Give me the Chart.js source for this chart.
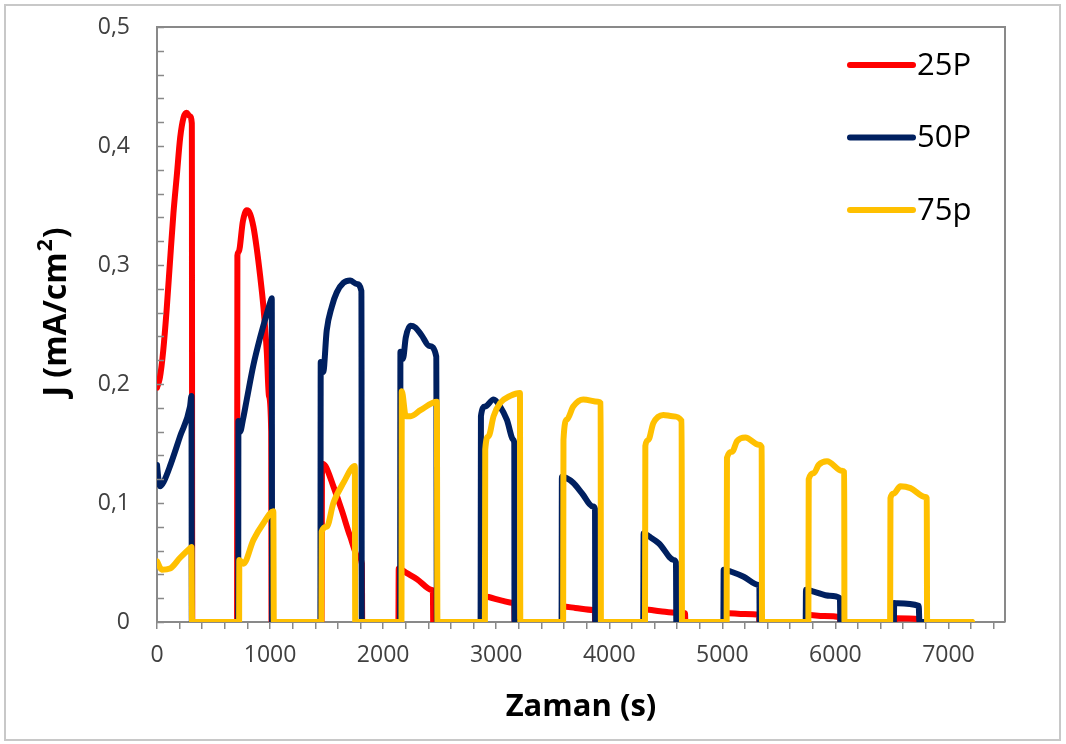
<!DOCTYPE html>
<html>
<head>
<meta charset="utf-8">
<script src="https://cdn.jsdelivr.net/npm/chart.js@4.4.0/dist/chart.umd.min.js"></script>
<style>
  html, body { margin: 0; padding: 0; background: #fff; }
  canvas { display: block; }
</style>
</head>
<body>
<canvas id="chart" width="1066" height="744"></canvas>
<script>
const t25 = [0, 25, 55, 85, 115, 145, 175, 205, 235, 262, 290, 308, 312,
  708, 711, 722, 760, 794, 823, 853, 882, 912, 941, 971, 990, 1010, 1013,
  1455, 1460, 1490, 1560, 1634, 1708, 1782, 1812, 1815,
  2135, 2138, 2210, 2300, 2431, 2440, 2443,
  2880, 2883, 2933, 3050, 3153, 3160, 3163,
  3585, 3588, 3700, 3858, 3872, 3875,
  4310, 4313, 4450, 4600, 4670, 4673,
  5015, 5018, 5200, 5325, 5328,
  5745, 5748, 5900, 6040, 6043,
  6525, 6528, 6740, 6743, 7200];
const j25 = [0.197, 0.205, 0.228, 0.262, 0.303, 0.343, 0.375, 0.407, 0.424, 0.428, 0.425, 0.419, 0,
  0, 0.308, 0.311, 0.337, 0.346, 0.343, 0.332, 0.314, 0.291, 0.265, 0.227, 0.19, 0.16, 0,
  0, 0.133, 0.131, 0.114, 0.094, 0.072, 0.055, 0.049, 0,
  0, 0.045, 0.041, 0.036, 0.027, 0.026, 0,
  0, 0.022, 0.021, 0.018, 0.016, 0.0155, 0,
  0, 0.013, 0.0118, 0.0101, 0.01, 0,
  0, 0.0105, 0.009, 0.0077, 0.0073, 0,
  0, 0.0076, 0.0067, 0.006, 0,
  0, 0.006, 0.005, 0.004, 0,
  0, 0.0032, 0.0023, 0, 0];

const t50 = [0, 15, 27, 60, 115, 204, 292, 305, 308,
  718, 720, 735, 760, 794, 853, 912, 971, 1010, 1015, 1018,
  1445, 1448, 1470, 1501, 1546, 1590, 1649, 1708, 1767, 1808, 1811,
  2150, 2153, 2175, 2200, 2240, 2285, 2340, 2410, 2470, 2475,
  2862, 2865, 2900, 2977, 3035, 3094, 3153, 3160, 3162,
  3578, 3581, 3620, 3681, 3760, 3858, 3874, 3876,
  4300, 4304, 4350, 4440, 4573, 4590, 4593,
  5009, 5012, 5086, 5189, 5321, 5328, 5330,
  5737, 5740, 5808, 5950, 6040, 6044,
  6517, 6520, 6546, 6737, 6743, 7200];
const j50 = [0.132, 0.118, 0.114, 0.118, 0.131, 0.156, 0.181, 0.19, 0,
  0, 0.169, 0.16, 0.17, 0.187, 0.216, 0.239, 0.259, 0.271, 0.272, 0,
  0, 0.2185, 0.21, 0.245, 0.265, 0.277, 0.285, 0.287, 0.284, 0.278, 0,
  0, 0.227, 0.221, 0.239, 0.249, 0.2475, 0.241, 0.232, 0.223, 0,
  0, 0.173, 0.181, 0.187, 0.181, 0.17, 0.153, 0.15, 0,
  0, 0.122, 0.121, 0.117, 0.108, 0.097, 0.095, 0,
  0, 0.0746, 0.072, 0.066, 0.052, 0.05, 0,
  0, 0.044, 0.042, 0.038, 0.031, 0.03, 0,
  0, 0.027, 0.0255, 0.022, 0.02, 0,
  0, 0.016, 0.0157, 0.0135, 0, 0];

const t75 = [0, 42, 115, 204, 292, 305, 310,
  726, 728, 764, 853, 941, 1029, 1033,
  1454, 1457, 1501, 1560, 1649, 1750, 1753,
  2162, 2165, 2200, 2245, 2330, 2475, 2480,
  2900, 2903, 2932, 2977, 3035, 3124, 3210, 3213,
  3592, 3595, 3625, 3681, 3770, 3903, 3924, 3926,
  4316, 4319, 4345, 4389, 4478, 4560, 4640, 4643,
  5038, 5041, 5086, 5130, 5204, 5322, 5348, 5351,
  5761, 5764, 5808, 5852, 5926, 6059, 6078, 6080,
  6484, 6487, 6516, 6575, 6664, 6796, 6808, 6811, 7209];
const j75 = [0.051, 0.044, 0.045, 0.054, 0.062, 0.063, 0,
  0, 0.052, 0.049, 0.069, 0.083, 0.093, 0,
  0, 0.076, 0.08, 0.1, 0.117, 0.131, 0,
  0, 0.194, 0.173, 0.173, 0.178, 0.185, 0,
  0, 0.145, 0.156, 0.173, 0.184, 0.19, 0.1925, 0,
  0, 0.153, 0.17, 0.181, 0.187, 0.185, 0.184, 0,
  0, 0.148, 0.153, 0.167, 0.174, 0.173, 0.169, 0,
  0, 0.138, 0.143, 0.152, 0.155, 0.149, 0.147, 0,
  0, 0.12, 0.125, 0.132, 0.135, 0.127, 0.126, 0,
  0, 0.104, 0.108, 0.114, 0.1125, 0.105, 0.104, 0, 0];

const seriesLabels = ["25P", "50P", "75p"];
const seriesColors = ["#ff0000", "#002060", "#ffc000"];

const axisGray = "#898989";
const fontFamily = "'Open Sans', sans-serif";
const tickFont = {family: fontFamily, size: 23};
const titleFont = {family: fontFamily, size: 31, weight: "bold"};

function toPoints(ts, js) {
  return ts.map((t, i) => ({x: t, y: js[i]}));
}

function isMultiple(v, step) {
  const r = v / step;
  return Math.abs(r - Math.round(r)) < 1e-6;
}

// frame, inner y ticks, y title with a real superscript, legend inside the plot
const decorations = {
  id: "decorations",
  beforeDraw(chart) {
    const {ctx} = chart;
    ctx.save();
    ctx.strokeStyle = "#c8c8c8";
    ctx.lineWidth = 2;
    ctx.strokeRect(5, 5, 1055, 735);
    ctx.restore();
  },
  afterDraw(chart) {
    const {ctx, chartArea: a, scales: {y}} = chart;
    ctx.save();
    ctx.strokeStyle = axisGray;
    ctx.lineWidth = 2;
    ctx.beginPath();
    ctx.moveTo(a.left, a.top);
    ctx.lineTo(a.right, a.top);
    ctx.lineTo(a.right, a.bottom);
    ctx.stroke();

    ctx.lineWidth = 1.5;
    y.ticks.forEach(tick => {
      const py = Math.round(y.getPixelForValue(tick.value)) + 0.5;
      ctx.beginPath();
      ctx.moveTo(a.left, py);
      ctx.lineTo(a.left + 7, py);
      ctx.stroke();
    });

    // y title
    const main = "J (mA/cm", sup = "2", tail = ")";
    const bigFont = "bold 32px " + fontFamily, supFont = "bold 21px " + fontFamily;
    ctx.font = bigFont;
    const wMain = ctx.measureText(main).width, wTail = ctx.measureText(tail).width;
    ctx.font = supFont;
    const wSup = ctx.measureText(sup).width + 2;
    const total = wMain + wSup + wTail;
    ctx.translate(55, 312);
    ctx.rotate(-Math.PI / 2);
    ctx.fillStyle = "#000";
    ctx.textBaseline = "middle";
    ctx.textAlign = "left";
    let tx = -total / 2;
    ctx.font = bigFont;
    ctx.fillText(main, tx, 2);
    tx += wMain + 1;
    ctx.font = supFont;
    ctx.fillText(sup, tx, -9);
    tx += wSup - 1;
    ctx.font = bigFont;
    ctx.fillText(tail, tx, 2);
    ctx.setTransform(1, 0, 0, 1, 0, 0);

    ctx.font = "31px " + fontFamily;
    ctx.textBaseline = "middle";
    ctx.fillStyle = "#000";
    ctx.lineCap = "round";
    chart.data.datasets.forEach((ds, i) => {
      const ly = a.top + 38 + i * 72.5;
      ctx.strokeStyle = ds.borderColor;
      ctx.lineWidth = 6;
      ctx.beginPath();
      ctx.moveTo(a.right - 155, ly);
      ctx.lineTo(a.right - 92, ly);
      ctx.stroke();
      ctx.fillText(ds.label, a.right - 88, ly + 1);
    });
    ctx.restore();
  }
};

const datasets = [toPoints(t25, j25), toPoints(t50, j50), toPoints(t75, j75)].map((data, i) => ({
  label: seriesLabels[i],
  data: data,
  borderColor: seriesColors[i],
  backgroundColor: seriesColors[i],
  borderWidth: 6,
  pointRadius: 0,
  fill: false,
  cubicInterpolationMode: "monotone",
  borderJoinStyle: "round",
  borderCapStyle: "round",
  order: 3 - i,
}));

new Chart(document.getElementById("chart"), {
  type: "line",
  data: {datasets: datasets},
  options: {
    responsive: false,
    animation: false,
    devicePixelRatio: 1,
    layout: {padding: {top: 27, right: 61, left: 0, bottom: 0}},
    plugins: {
      legend: {display: false},
      tooltip: {enabled: false},
    },
    scales: {
      x: {
        type: "linear",
        min: 0,
        max: 7500,
        afterFit: scale => { scale.height = 122; },
        grid: {drawOnChartArea: false, drawTicks: true, tickLength: 7, color: axisGray, lineWidth: 1.5},
        border: {display: true, color: axisGray, width: 2},
        ticks: {
          stepSize: 200,
          includeBounds: false,
          autoSkip: false,
          maxRotation: 0,
          padding: 13,
          color: "#404040",
          font: tickFont,
          callback: v => isMultiple(v, 1000) ? String(v) : "",
        },
        title: {display: true, text: "Zaman (s)", color: "#000", font: titleFont, padding: {bottom: 18}},
      },
      y: {
        min: 0,
        max: 0.5,
        afterFit: scale => {
          scale.width = 157;
          scale.paddingTop = 0;
          scale.paddingBottom = 0;
        },
        grid: {drawOnChartArea: false, drawTicks: false},
        border: {display: true, color: axisGray, width: 2},
        ticks: {
          stepSize: 0.02,
          autoSkip: false,
          padding: 27,
          color: "#404040",
          font: tickFont,
          callback: v => isMultiple(v, 0.1) ? String(Math.round(v * 10) / 10).replace(".", ",") : "",
        },
      },
    },
  },
  plugins: [decorations],
});
</script>
</body>
</html>
